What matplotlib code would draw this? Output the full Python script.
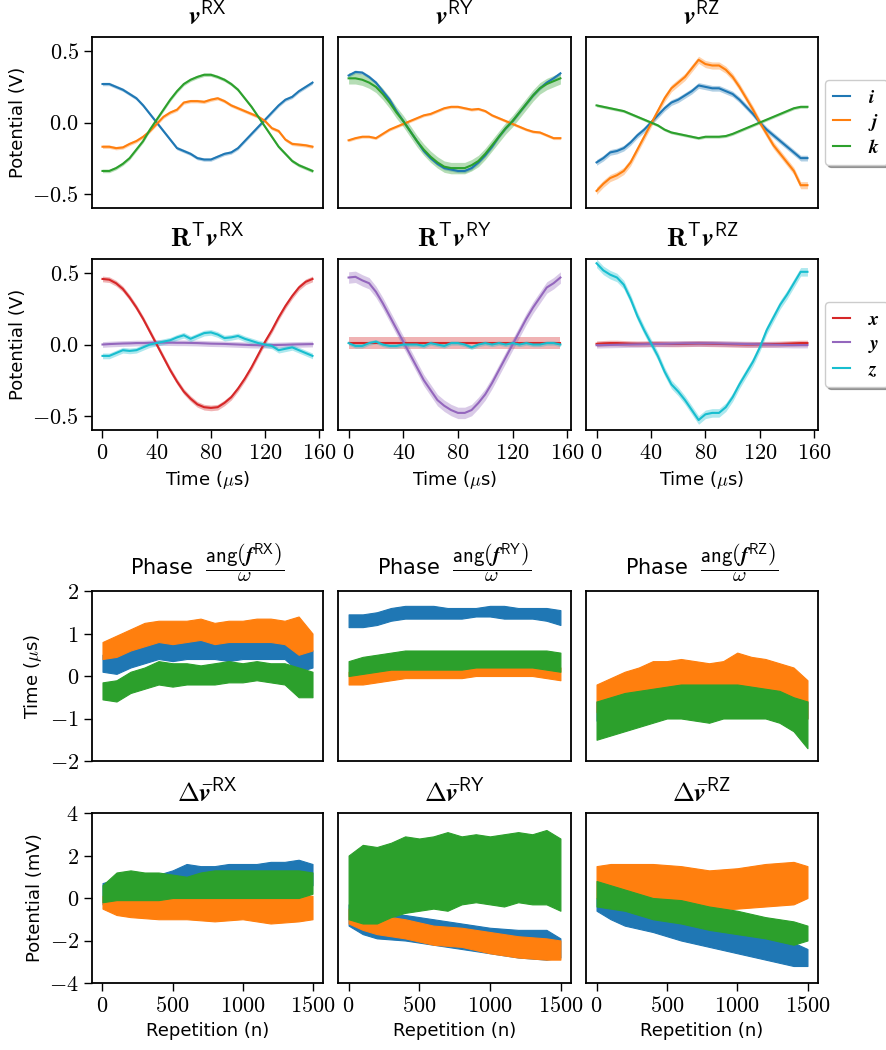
import numpy as np
import matplotlib.pyplot as plt
from matplotlib.ticker import FuncFormatter

plt.rcParams['mathtext.fontset'] = 'cm'
plt.rcParams['font.family'] = ['DejaVu Sans']

# ---- measured pulses (time axis in us) ----
t_us = [0, 5, 10, 15, 20, 25, 30, 35, 40, 45, 50, 55, 60, 65, 70, 75,
        80, 85, 90, 95, 100, 105, 110, 115, 120, 125, 130, 135, 140, 145, 150, 155]

# v^RX components i, j, k
v_rx_i = [0.27, 0.27, 0.25, 0.23, 0.20, 0.17, 0.12, 0.06, 0.0, -0.06, -0.12, -0.18, -0.20, -0.22, -0.25, -0.26,
          -0.26, -0.24, -0.22, -0.21, -0.18, -0.13, -0.08, -0.03, 0.02, 0.07, 0.12, 0.16, 0.18, 0.22, 0.25, 0.28]
v_rx_j = [-0.17, -0.17, -0.18, -0.175, -0.15, -0.13, -0.10, -0.06, -0.01, 0.04, 0.07, 0.09, 0.14, 0.15, 0.15, 0.145,
          0.16, 0.17, 0.15, 0.12, 0.10, 0.08, 0.06, 0.04, 0.01, -0.04, -0.06, -0.12, -0.15, -0.155, -0.16, -0.17]
v_rx_k = [-0.34, -0.34, -0.32, -0.29, -0.25, -0.19, -0.13, -0.05, 0.02, 0.09, 0.16, 0.22, 0.27, 0.30, 0.32, 0.335,
          0.335, 0.32, 0.30, 0.27, 0.23, 0.17, 0.11, 0.04, -0.03, -0.10, -0.17, -0.22, -0.27, -0.30, -0.32, -0.34]
# v^RY
v_ry_i = [0.33, 0.355, 0.35, 0.32, 0.28, 0.22, 0.16, 0.08, 0.01, -0.06, -0.13, -0.20, -0.25, -0.29, -0.32, -0.33,
          -0.34, -0.34, -0.32, -0.28, -0.23, -0.17, -0.10, -0.04, 0.01, 0.07, 0.13, 0.19, 0.24, 0.28, 0.31, 0.345]
v_ry_j = [-0.125, -0.11, -0.10, -0.10, -0.11, -0.08, -0.05, -0.03, -0.01, 0.01, 0.03, 0.05, 0.06, 0.08, 0.10, 0.11,
          0.11, 0.10, 0.09, 0.095, 0.08, 0.05, 0.03, 0.01, -0.01, -0.03, -0.05, -0.065, -0.07, -0.09, -0.11, -0.11]
v_ry_k = [0.31, 0.31, 0.30, 0.28, 0.25, 0.20, 0.14, 0.07, 0.01, -0.06, -0.13, -0.19, -0.24, -0.28, -0.31, -0.32,
          -0.32, -0.32, -0.30, -0.27, -0.22, -0.16, -0.10, -0.04, 0.01, 0.07, 0.13, 0.19, 0.24, 0.27, 0.29, 0.31]
# v^RZ
v_rz_i = [-0.28, -0.25, -0.21, -0.20, -0.18, -0.14, -0.09, -0.05, 0.0, 0.05, 0.10, 0.14, 0.16, 0.19, 0.22, 0.26,
          0.25, 0.24, 0.24, 0.22, 0.20, 0.16, 0.11, 0.06, 0.0, -0.05, -0.09, -0.13, -0.17, -0.21, -0.25, -0.25]
v_rz_j = [-0.48, -0.43, -0.39, -0.37, -0.34, -0.28, -0.19, -0.10, -0.01, 0.08, 0.17, 0.24, 0.28, 0.32, 0.38, 0.44,
          0.41, 0.40, 0.40, 0.37, 0.32, 0.25, 0.17, 0.09, 0.0, -0.08, -0.16, -0.22, -0.28, -0.34, -0.44, -0.44]
v_rz_k = [0.12, 0.11, 0.10, 0.09, 0.08, 0.06, 0.04, 0.02, 0.0, -0.02, -0.05, -0.07, -0.08, -0.09, -0.10, -0.11,
          -0.10, -0.10, -0.10, -0.095, -0.08, -0.06, -0.04, -0.02, 0.0, 0.02, 0.04, 0.06, 0.08, 0.10, 0.11, 0.11]

# R^T v components x, y, z
rv_rx_x = [0.46, 0.455, 0.43, 0.39, 0.33, 0.26, 0.18, 0.09, 0.0, -0.09, -0.18, -0.26, -0.33, -0.38, -0.42, -0.44,
           -0.445, -0.44, -0.41, -0.37, -0.31, -0.24, -0.16, -0.07, 0.02, 0.10, 0.19, 0.27, 0.34, 0.40, 0.44, 0.46]
rv_rx_y = [0.0, 0.003, 0.005, 0.007, 0.008, 0.01, 0.01, 0.012, 0.013, 0.013, 0.013, 0.012, 0.012, 0.011, 0.01, 0.008,
           0.006, 0.005, 0.004, 0.002, 0.0, -0.002, -0.004, -0.005, -0.005, -0.004, -0.003, -0.002, 0.0, 0.001, 0.002, 0.003]
rv_rx_z = [-0.08, -0.08, -0.06, -0.04, -0.045, -0.04, -0.02, 0.0, 0.01, 0.02, 0.03, 0.05, 0.065, 0.04, 0.06, 0.08,
           0.085, 0.07, 0.045, 0.05, 0.06, 0.04, 0.025, 0.01, 0.0, -0.01, -0.04, -0.03, -0.02, -0.04, -0.06, -0.08]
rv_ry_x = [0.01, 0.01, 0.01, 0.01, 0.01, 0.01, 0.01, 0.01, 0.01, 0.01, 0.01, 0.01, 0.01, 0.01, 0.01, 0.01,
           0.01, 0.01, 0.01, 0.01, 0.01, 0.01, 0.01, 0.01, 0.01, 0.01, 0.01, 0.01, 0.01, 0.01, 0.01, 0.01]
rv_ry_y = [0.47, 0.475, 0.45, 0.43, 0.37, 0.29, 0.20, 0.11, 0.02, -0.07, -0.16, -0.25, -0.32, -0.39, -0.43, -0.46,
           -0.48, -0.48, -0.46, -0.41, -0.35, -0.27, -0.18, -0.09, 0.0, 0.09, 0.18, 0.26, 0.33, 0.40, 0.43, 0.47]
rv_ry_z = [0.01, -0.01, -0.01, 0.01, 0.02, 0.0, -0.01, -0.01, 0.0, 0.0, 0.0, -0.01, 0.01, 0.0, -0.01, 0.01,
           0.01, 0.0, -0.02, 0.0, 0.01, 0.0, 0.01, 0.0, 0.01, 0.0, 0.01, 0.0, 0.0, 0.01, 0.01, 0.0]
rv_rz_x = [0.005, 0.008, 0.01, 0.01, 0.008, 0.006, 0.005, 0.005, 0.006, 0.006, 0.005, 0.004, 0.004, 0.005, 0.006, 0.007,
           0.006, 0.005, 0.004, 0.003, 0.002, 0.001, 0.0, 0.0, 0.001, 0.002, 0.003, 0.004, 0.006, 0.008, 0.01, 0.01]
rv_rz_y = [-0.005, -0.004, -0.003, -0.002, -0.001, 0.0, 0.001, 0.002, 0.003, 0.004, 0.005, 0.006, 0.007, 0.008, 0.008, 0.008,
           0.008, 0.008, 0.007, 0.006, 0.005, 0.004, 0.003, 0.002, 0.001, 0.0, -0.001, -0.002, -0.003, -0.004, -0.004, -0.004]
rv_rz_z = [0.57, 0.52, 0.49, 0.47, 0.42, 0.32, 0.20, 0.10, 0.01, -0.08, -0.19, -0.28, -0.33, -0.39, -0.46, -0.53,
           -0.49, -0.48, -0.48, -0.44, -0.37, -0.28, -0.20, -0.12, -0.02, 0.10, 0.19, 0.28, 0.35, 0.43, 0.51, 0.51]

# spread (half width of shaded band), one per curve
spread_v = {'RX': [0.012, 0.012, 0.012], 'RY': [0.012, 0.01, 0.04], 'RZ': [0.02, 0.025, 0.01]}
spread_rv = {'RX': [0.02, 0.02, 0.02], 'RY': [0.04, 0.04, 0.015], 'RZ': [0.02, 0.02, 0.03]}

# ---- per repetition statistics: low / high envelope of the noisy traces ----
rep_n = [0, 100, 200, 300, 400, 500, 600, 700, 800, 900, 1000, 1100, 1200, 1300, 1400, 1499]

phase_rx_lo = [[0.1, 0.05, 0.2, 0.3, 0.4, 0.35, 0.4, 0.4, 0.4, 0.35, 0.4, 0.4, 0.4, 0.4, 0.1, 0.2],
               [0.4, 0.45, 0.6, 0.7, 0.8, 0.75, 0.8, 0.85, 0.75, 0.8, 0.8, 0.8, 0.8, 0.75, 0.5, 0.6],
               [-0.55, -0.6, -0.4, -0.3, -0.2, -0.25, -0.2, -0.2, -0.2, -0.15, -0.15, -0.1, -0.15, -0.2, -0.5, -0.5]]
phase_rx_hi = [[0.5, 0.55, 0.65, 0.75, 0.85, 0.85, 0.85, 0.9, 0.85, 0.85, 0.9, 0.95, 0.9, 0.9, 0.9, 0.6],
               [0.8, 0.95, 1.1, 1.25, 1.3, 1.3, 1.3, 1.35, 1.25, 1.3, 1.3, 1.35, 1.35, 1.3, 1.4, 1.0],
               [-0.15, -0.1, 0.1, 0.2, 0.35, 0.3, 0.3, 0.25, 0.3, 0.35, 0.3, 0.35, 0.3, 0.3, 0.2, 0.1]]
phase_ry_lo = [[1.15, 1.15, 1.2, 1.3, 1.35, 1.35, 1.35, 1.35, 1.35, 1.4, 1.4, 1.35, 1.35, 1.35, 1.3, 1.2],
               [-0.2, -0.2, -0.15, -0.1, -0.05, -0.05, -0.05, -0.05, -0.05, 0.0, 0.0, 0.0, 0.0, 0.0, -0.05, -0.1],
               [0.0, 0.05, 0.1, 0.15, 0.15, 0.15, 0.15, 0.15, 0.15, 0.2, 0.2, 0.2, 0.2, 0.2, 0.15, 0.1]]
phase_ry_hi = [[1.45, 1.45, 1.5, 1.6, 1.65, 1.65, 1.65, 1.6, 1.6, 1.6, 1.65, 1.65, 1.6, 1.6, 1.6, 1.55],
               [0.1, 0.12, 0.15, 0.18, 0.2, 0.22, 0.25, 0.25, 0.25, 0.28, 0.3, 0.3, 0.3, 0.28, 0.25, 0.2],
               [0.35, 0.45, 0.5, 0.55, 0.6, 0.6, 0.6, 0.6, 0.6, 0.6, 0.6, 0.6, 0.6, 0.6, 0.6, 0.55]]
phase_rz_lo = [[-1.05, -1.0, -0.9, -0.8, -0.7, -0.7, -0.7, -0.7, -0.75, -0.7, -0.7, -0.7, -0.75, -0.8, -0.9, -1.0],
               [-0.85, -0.8, -0.7, -0.6, -0.5, -0.5, -0.5, -0.45, -0.45, -0.45, -0.45, -0.4, -0.4, -0.5, -0.6, -1.0],
               [-1.5, -1.4, -1.3, -1.2, -1.1, -1.0, -1.0, -1.05, -1.1, -1.0, -1.0, -1.0, -1.0, -1.1, -1.3, -1.7]]
phase_rz_hi = [[-0.6, -0.5, -0.4, -0.3, -0.2, -0.2, -0.2, -0.25, -0.25, -0.2, -0.2, -0.2, -0.25, -0.3, -0.4, -0.6],
               [-0.2, -0.05, 0.1, 0.2, 0.35, 0.35, 0.4, 0.35, 0.3, 0.35, 0.55, 0.45, 0.4, 0.3, 0.2, -0.1],
               [-0.6, -0.5, -0.4, -0.35, -0.3, -0.25, -0.2, -0.2, -0.2, -0.2, -0.2, -0.25, -0.3, -0.35, -0.5, -0.6]]

dv_rx_lo = [[-0.3, 0.0, 0.0, 0.0, 0.0, 0.2, 0.3, 0.35, 0.4, 0.45, 0.5, 0.5, 0.5, 0.5, 0.5, 0.6],
            [-0.5, -0.8, -0.9, -0.95, -1.0, -1.0, -1.0, -1.05, -1.1, -1.05, -1.0, -1.1, -1.2, -1.15, -1.1, -1.0],
            [-0.2, -0.1, -0.1, -0.1, -0.1, 0.0, 0.0, 0.0, 0.0, 0.0, 0.0, 0.0, 0.0, 0.0, 0.0, 0.2]]
dv_rx_hi = [[0.7, 0.9, 1.0, 1.0, 1.1, 1.3, 1.6, 1.5, 1.5, 1.6, 1.6, 1.6, 1.7, 1.7, 1.8, 1.6],
            [0.1, 0.1, 0.1, 0.1, 0.1, 0.05, 0.0, 0.0, 0.0, 0.05, 0.1, 0.2, 0.3, 0.3, 0.2, 0.1],
            [0.6, 1.2, 1.3, 1.2, 1.2, 1.1, 1.0, 1.2, 1.3, 1.3, 1.3, 1.3, 1.3, 1.3, 1.3, 1.2]]
dv_ry_lo = [[-1.3, -1.7, -1.9, -1.95, -2.0, -2.1, -2.2, -2.3, -2.4, -2.5, -2.6, -2.7, -2.8, -2.85, -2.9, -2.8],
            [-1.2, -1.5, -1.7, -1.8, -1.9, -2.05, -2.2, -2.25, -2.3, -2.45, -2.6, -2.7, -2.8, -2.85, -2.9, -2.9],
            [-1.0, -1.2, -1.2, -0.9, -0.7, -0.6, -0.5, -0.6, -0.3, -0.2, -0.3, -0.4, -0.2, -0.3, -0.3, -0.6]]
dv_ry_hi = [[-0.3, -0.6, -0.8, -0.8, -0.8, -0.9, -1.0, -1.1, -1.2, -1.3, -1.4, -1.45, -1.5, -1.5, -1.5, -1.9],
            [-0.5, -0.7, -0.8, -0.9, -1.0, -1.15, -1.3, -1.35, -1.4, -1.5, -1.6, -1.7, -1.8, -1.85, -1.9, -2.0],
            [2.0, 2.5, 2.4, 2.6, 2.9, 2.8, 2.9, 3.1, 2.9, 3.0, 2.9, 3.0, 3.1, 3.0, 3.2, 2.8]]
dv_rz_lo = [[-0.6, -1.0, -1.3, -1.45, -1.6, -1.8, -2.0, -2.15, -2.3, -2.45, -2.6, -2.75, -2.9, -3.05, -3.2, -3.2],
            [0.0, -0.2, -0.3, -0.3, -0.3, -0.4, -0.5, -0.55, -0.6, -0.55, -0.5, -0.45, -0.4, -0.35, -0.3, 0.0],
            [-0.4, -0.5, -0.6, -0.8, -1.0, -1.1, -1.2, -1.35, -1.5, -1.6, -1.7, -1.8, -1.9, -2.05, -2.2, -2.0]]
dv_rz_hi = [[0.0, -0.15, -0.3, -0.5, -0.7, -0.85, -1.0, -1.15, -1.3, -1.45, -1.6, -1.75, -1.9, -2.0, -2.1, -2.4],
            [1.5, 1.6, 1.6, 1.6, 1.6, 1.55, 1.5, 1.4, 1.3, 1.35, 1.4, 1.5, 1.6, 1.65, 1.7, 1.5],
            [0.8, 0.6, 0.4, 0.2, 0.0, -0.05, -0.1, -0.25, -0.4, -0.5, -0.6, -0.75, -0.9, -1.0, -1.1, -1.3]]

labels = ['RX', 'RY', 'RZ']
v_data = {'RX': [v_rx_i, v_rx_j, v_rx_k], 'RY': [v_ry_i, v_ry_j, v_ry_k], 'RZ': [v_rz_i, v_rz_j, v_rz_k]}
rv_data = {'RX': [rv_rx_x, rv_rx_y, rv_rx_z], 'RY': [rv_ry_x, rv_ry_y, rv_ry_z], 'RZ': [rv_rz_x, rv_rz_y, rv_rz_z]}
phase_data = {'RX': (phase_rx_lo, phase_rx_hi), 'RY': (phase_ry_lo, phase_ry_hi), 'RZ': (phase_rz_lo, phase_rz_hi)}
dv_data = {'RX': (dv_rx_lo, dv_rx_hi), 'RY': (dv_ry_lo, dv_ry_hi), 'RZ': (dv_rz_lo, dv_rz_hi)}

ijk_colors = ['#1f77b4', '#ff7f0e', '#2ca02c']
xyz_colors = ['#d62728', '#9467bd', '#17becf']
ijk_names = [r'$\mathbfit{i}$', r'$\mathbfit{j}$', r'$\mathbfit{k}$']
xyz_names = [r'$\mathbfit{x}$', r'$\mathbfit{y}$', r'$\mathbfit{z}$']

W, H = 887, 1050
fig = plt.figure(figsize=(W / 100, H / 100), dpi=100)

cols_px = [(92, 323), (338, 571), (586, 818)]
rows_px = [(37, 208), (259, 430), (591, 761), (813, 983)]

def mk_ax(r, c):
    x0, x1 = cols_px[c]
    y0, y1 = rows_px[r]
    return fig.add_axes([x0 / W, 1 - y1 / H, (x1 - x0) / W, (y1 - y0) / H])

fmt_int = FuncFormatter(lambda v, p: '$%g$' % v)
fmt_1f = FuncFormatter(lambda v, p: '$%.1f$' % v)
t = np.array(t_us)
reps = np.array(rep_n)

axes = [[mk_ax(r, c) for c in range(3)] for r in range(4)]

for c, lab in enumerate(labels):
    # row 0: raw pulses
    ax = axes[0][c]
    for k in range(3):
        y = np.array(v_data[lab][k])
        s = spread_v[lab][k]
        ax.fill_between(t, y - s, y + s, color=ijk_colors[k], alpha=0.35, lw=0)
        ax.plot(t, y, color=ijk_colors[k], lw=1.5, label=ijk_names[k])
    ax.set_ylim(-0.6, 0.6)
    ax.set_title(r'$\mathbfit{v}^{\mathsf{%s}}$' % lab, fontsize=19, pad=9)

    # row 1: rotated pulses
    ax = axes[1][c]
    for k in range(3):
        y = np.array(rv_data[lab][k])
        s = spread_rv[lab][k]
        ax.fill_between(t, y - s, y + s, color=xyz_colors[k], alpha=0.35, lw=0)
        ax.plot(t, y, color=xyz_colors[k], lw=1.5, label=xyz_names[k])
    ax.set_ylim(-0.6, 0.6)
    ax.set_xticks([0, 40, 80, 120, 160])
    ax.set_xlabel(r'Time ($\mu$s)', fontsize=13)
    ax.set_title(r'$\mathbf{R}^{\mathsf{T}}\mathbfit{v}^{\mathsf{%s}}$' % lab, fontsize=19, pad=9)

    # row 2: phase
    ax = axes[2][c]
    lo, hi = phase_data[lab]
    for k in range(3):
        ax.fill_between(reps, lo[k], hi[k], color=ijk_colors[k], lw=0.8, edgecolor=ijk_colors[k])
    ax.set_ylim(-2, 2)
    ax.set_title(r'Phase  $\dfrac{\mathsf{ang}\left(\mathbfit{f}^{\mathsf{%s}}\right)}{\omega}$' % lab,
                 fontsize=15, pad=12)

    # row 3: mean offset
    ax = axes[3][c]
    lo, hi = dv_data[lab]
    for k in range(3):
        ax.fill_between(reps, lo[k], hi[k], color=ijk_colors[k], lw=0.8, edgecolor=ijk_colors[k])
    ax.set_ylim(-4, 4)
    ax.set_xticks([0, 500, 1000, 1500])
    ax.set_xlabel('Repetition (n)', fontsize=13)
    ax.set_title(r'$\mathbf{\Delta}\bar{\mathbfit{v}}^{\mathsf{%s}}$' % lab, fontsize=19, pad=8)

for r in range(4):
    for c in range(3):
        ax = axes[r][c]
        for sp in ax.spines.values():
            sp.set_linewidth(1.3)
        ax.tick_params(direction='out', length=6, width=1, labelsize=16)
        ax.xaxis.set_major_formatter(fmt_int)
        ax.yaxis.set_major_formatter(fmt_1f if r < 2 else fmt_int)
        if r in (0, 2):
            ax.tick_params(axis='x', bottom=False, labelbottom=False)
        if c > 0:
            ax.tick_params(axis='y', left=False, labelleft=False)
    axes[r][0].set_yticks({0: [-0.5, 0, 0.5], 1: [-0.5, 0, 0.5], 2: [-2, -1, 0, 1, 2], 3: [-4, -2, 0, 2, 4]}[r])

axes[0][0].set_ylabel('Potential (V)', fontsize=13)
axes[1][0].set_ylabel('Potential (V)', fontsize=13)
axes[2][0].set_ylabel(r'Time ($\mu$s)', fontsize=13)
axes[3][0].set_ylabel('Potential (mV)', fontsize=13)

for r in (0, 1):
    leg = axes[r][2].legend(loc='center left', bbox_to_anchor=(1.03, 0.5), shadow=True,
                            fontsize=14, framealpha=1, handlelength=0.9, handletextpad=0.9,
                            borderaxespad=0, borderpad=0.4, labelspacing=0.25)

fig.savefig('out.png', dpi=100)
